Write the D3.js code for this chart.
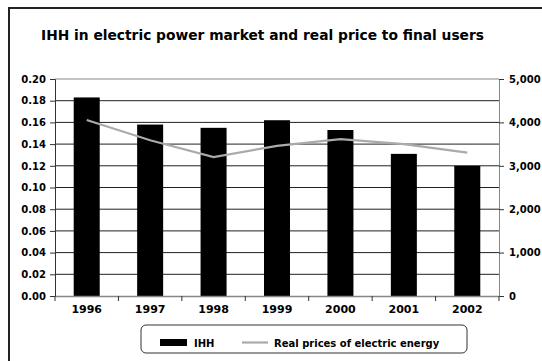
<!DOCTYPE html>
<html><head><meta charset="utf-8">
<script src="https://cdn.jsdelivr.net/npm/d3@7"></script>
<style>body{margin:0;background:#fff}svg{display:block}text{font-family:"DejaVu Sans",Verdana,sans-serif;font-weight:bold}</style>
</head><body><svg id="c" width="542" height="361"></svg>
<script>
const years = ["1996","1997","1998","1999","2000","2001","2002"];
const ihh = [0.183,0.158,0.155,0.162,0.153,0.131,0.120];
const prices = [4055,3590,3200,3460,3615,3500,3305];
const leftTicks = [0,0.02,0.04,0.06,0.08,0.10,0.12,0.14,0.16,0.18,0.20];
const rightTicks = [0,1000,2000,3000,4000,5000];

const svg = d3.select("#c");
const L=55, R=499, T=79, B=296;
svg.append("rect").attr("x",9).attr("y",8).attr("width",560).attr("height",380).attr("fill","#fff").attr("stroke","#222").attr("stroke-width",2);
svg.append("text").attr("x",262.5).attr("y",40).attr("text-anchor","middle").attr("font-size",13.8).text("IHH in electric power market and real price to final users");

const x = d3.scaleBand().domain(years).range([L,R]).paddingInner(0.59).paddingOuter(0.295);
const xc = d3.scaleBand().domain(years).range([L,R]);
const y = d3.scaleLinear().domain([0,0.2]).range([B,T]);
const y2 = d3.scaleLinear().domain([0,5000]).range([B,T]);

// gridlines
svg.append("g").selectAll("line").data(leftTicks.slice(1)).join("line")
  .attr("x1",L).attr("x2",R).attr("y1",d=>y(d)).attr("y2",d=>y(d))
  .attr("stroke",(d,i)=>i===leftTicks.length-2?"#888":"#222").attr("stroke-width",1);

// bars
svg.append("g").selectAll("rect").data(ihh).join("rect")
  .attr("x",(d,i)=>x(years[i])).attr("width",x.bandwidth())
  .attr("y",d=>y(d)).attr("height",d=>B-y(d)).attr("fill","#000");

// line
const line = d3.line().x((d,i)=>xc(years[i])+xc.bandwidth()/2).y(d=>y2(d));
svg.append("path").datum(prices).attr("d",line).attr("fill","none").attr("stroke","#aaa").attr("stroke-width",2.2);

// axes
const ga = svg.append("g").attr("transform",`translate(${L},0)`).call(d3.axisLeft(y).tickValues(leftTicks).tickFormat(d3.format(".2f")).tickSize(5).tickPadding(4));
const gr = svg.append("g").attr("transform",`translate(${R},0)`).call(d3.axisRight(y2).tickValues(rightTicks).tickFormat(d3.format(",")).tickSize(5).tickPadding(5));
const gb = svg.append("g").attr("transform",`translate(0,${B})`).call(d3.axisBottom(xc).tickSize(0).tickPadding(9));
gb.selectAll(".tick").append("line").attr("x1",-xc.bandwidth()/2).attr("x2",-xc.bandwidth()/2).attr("y1",0).attr("y2",5).attr("stroke","#333");
gb.append("line").attr("x1",R).attr("x2",R).attr("y1",0).attr("y2",5).attr("stroke","#333");
[ga,gr,gb].forEach(g=>{g.selectAll("text").attr("font-size",10).attr("fill","#000").attr("font-family","DejaVu Sans").attr("font-weight","bold");});
gb.selectAll("text").attr("font-size",11);
ga.select(".domain").attr("stroke","#333");
gr.select(".domain").attr("stroke","#888");
gb.select(".domain").attr("stroke","#888").attr("stroke-width",1.5);
ga.selectAll(".tick line").attr("stroke","#333");
gr.selectAll(".tick line").attr("stroke","#333");

// legend
const lg = svg.append("g");
lg.append("rect").attr("x",141).attr("y",325).attr("width",326).attr("height",28).attr("rx",5).attr("fill","#fff").attr("stroke","#333").attr("stroke-width",1);
lg.append("rect").attr("x",160).attr("y",339).attr("width",27).attr("height",7).attr("fill","#000");
lg.append("text").attr("x",194).attr("y",343).attr("dy","0.35em").attr("font-size",10).text("IHH");
lg.append("line").attr("x1",242).attr("x2",268).attr("y1",342.5).attr("y2",342.5).attr("stroke","#aaa").attr("stroke-width",2.2);
lg.append("text").attr("x",274).attr("y",343).attr("dy","0.35em").attr("font-size",10).text("Real prices of electric energy");
</script></body></html>
